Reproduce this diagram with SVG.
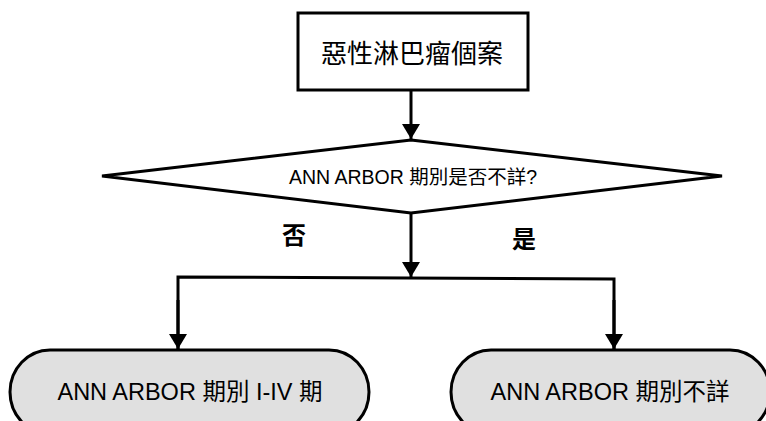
<svg xmlns="http://www.w3.org/2000/svg" width="766" height="421" viewBox="0 0 766 421">
<style>
.shape{stroke:#000;stroke-width:3;fill:#fff}
.term{stroke:#000;stroke-width:3;fill:#e0e0e0}
.t{font-family:"Liberation Sans","Noto Sans CJK TC",sans-serif;fill:#000;text-anchor:middle;dominant-baseline:central}
.conn{stroke:#000;stroke-width:3;fill:none}
</style>
<defs>
<marker id="ah" markerWidth="5" markerHeight="6" refX="5" refY="3" orient="auto" markerUnits="strokeWidth">
<path d="M0,0 L5,3 L0,6 z" fill="#000"/>
</marker>
</defs>
<g id="start">
<rect class="shape" x="298" y="13" width="230" height="77"/>
<text class="t" x="412" y="54" font-size="26">惡性淋巴瘤個案</text>
</g>
<g id="decision">
<polygon class="shape" points="411,140 722,176 411,213 102,176"/>
<text class="t" x="413" y="177" font-size="19.5">ANN ARBOR 期別是否不詳?</text>
</g>
<g id="no">
<rect class="term" x="10" y="350" width="359" height="84" rx="40" ry="42"/>
<text class="t" x="190" y="392" font-size="23.5">ANN ARBOR 期別 I-IV 期</text>
</g>
<g id="yes">
<rect class="term" x="451" y="350" width="319" height="84" rx="40" ry="42"/>
<text class="t" x="610" y="392" font-size="23.5">ANN ARBOR 期別不詳</text>
</g>
<g id="connectors">
<line class="conn" x1="411" y1="90" x2="411" y2="139" marker-end="url(#ah)"/>
<line class="conn" x1="411" y1="213" x2="411" y2="277" marker-end="url(#ah)"/>
<polyline class="conn" points="178,349 178,277 614,279 614,349"/>
<line class="conn" x1="178" y1="300" x2="178" y2="349" marker-end="url(#ah)"/>
<line class="conn" x1="614" y1="300" x2="614" y2="349" marker-end="url(#ah)"/>
<text class="t" x="294" y="235" font-size="24" font-weight="bold">否</text>
<text class="t" x="524" y="239" font-size="24" font-weight="bold">是</text>
</g>
</svg>
